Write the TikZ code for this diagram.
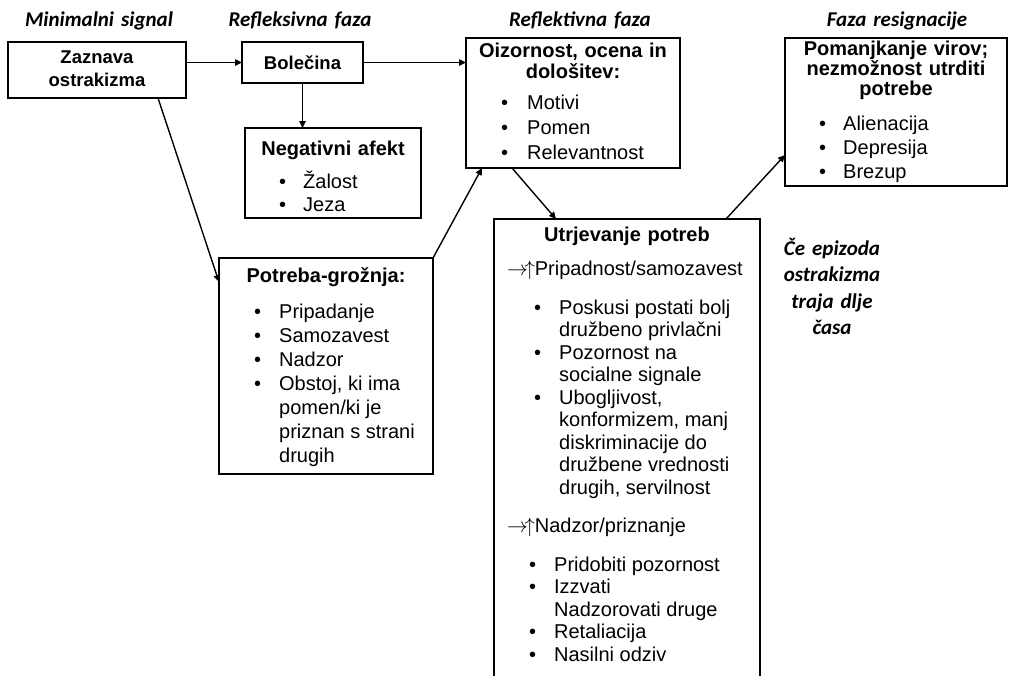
\documentclass[tikz,border=0pt]{standalone}
\usepackage{fontspec}
\setmainfont{Liberation Sans}
\newfontfamily\hdrfont{Carlito}
\usetikzlibrary{arrows.meta}
\newcommand\bl{\textbullet}
\begin{document}
\begin{tikzpicture}[x=1pt,y=-1pt,
  box/.style={draw, line width=1.8pt, anchor=north west, inner sep=0pt, outer sep=0pt},
  ttl/.style={font=\fontsize{20}{21}\selectfont\bfseries, align=center, text width=#1, inner sep=0pt, anchor=base},
  ttl/.default=210pt,
  lst/.style={inner sep=0pt, anchor=base west, font=\fontsize{20}{#1}\selectfont},
  lst/.default=24pt,
  hdr/.style={font=\hdrfont\fontsize{21}{26.5}\selectfont\bfseries\itshape, inner sep=0pt, anchor=base, align=center, text width=170pt},
  arr/.style={line width=1.4pt, -{Triangle[length=7pt,width=6.5pt]}},
]
\useasboundingbox (0,0) rectangle (1014,675);
\clip (0,0) rectangle (1014,675);

% headers
\node[hdr] (h1) at (99,26) {Minimalni signal};
\node[hdr] (h2) at (300,26) {Refleksivna faza};
\node[hdr] (h3) at (580,26) {Reflektivna faza};
\node[hdr] (h4) at (897,26) {Faza resignacije};
\node[hdr] (side) at (832,255) {Če epizoda\\ostrakizma\\traja dlje\\časa};

% boxes
\node[box, minimum width=178pt, minimum height=56pt] (zaz) at (8,42) {};
\node[box, minimum width=121pt, minimum height=41pt] (bol) at (242,42) {};
\node[box, minimum width=176pt, minimum height=90pt] (neg) at (245,128) {};
\node[box, minimum width=214pt, minimum height=130pt] (oiz) at (466,38) {};
\node[box, minimum width=222pt, minimum height=148pt] (pom) at (785,38) {};
\node[box, minimum width=214pt, minimum height=216pt] (pot) at (219,258) {};
\node[box, minimum width=266pt, minimum height=480pt] (utr) at (494,219) {};

% box texts
\node[ttl=170pt, font=\fontsize{18.5}{23}\selectfont\bfseries] (zazt) at (97,63) {Zaznava\\ostrakizma};
\node[ttl=115pt, font=\fontsize{18.5}{23}\selectfont\bfseries] (bolt) at (302.5,69) {Bolečina};

\node[ttl] (negt) at (333,155) {Negativni afekt};
\node[lst=23pt] (negl) at (279,188) {\begin{tabular}[t]{@{}p{24pt}@{}l@{}}\bl & Žalost\\ \bl & Jeza\end{tabular}};

\node[ttl] (oizt) at (573,57) {Oizornost, ocena in\\dološitev:};
\node[lst=25pt] (oizl) at (501,109) {\begin{tabular}[t]{@{}p{26pt}@{}l@{}}\bl & Motivi\\ \bl & Pomen\\ \bl & Relevantnost\end{tabular}};

\node[ttl, font=\fontsize{20}{20}\selectfont\bfseries] (pomt) at (896,55) {Pomanjkanje virov;\\nezmožnost utrditi\\potrebe};
\node[lst=24pt] (poml) at (819,130) {\begin{tabular}[t]{@{}p{24pt}@{}l@{}}\bl & Alienacija\\ \bl & Depresija\\ \bl & Brezup\end{tabular}};

\node[ttl] (pott) at (326,282) {Potreba-grožnja:};
\node[lst=24pt] (potl) at (254,318) {\begin{tabular}[t]{@{}p{25pt}@{}l@{}}\bl & Pripadanje\\ \bl & Samozavest\\ \bl & Nadzor\\ \bl & Obstoj, ki ima\\ & pomen/ki je\\ & priznan s strani\\ & drugih\end{tabular}};

\node[ttl] (utrt) at (627,241) {Utrjevanje potreb};
\node[lst] (utra) at (507,275) {$\rightarrow\!\uparrow$Pripadnost/samozavest};
\node[lst=22.5pt] (utrl) at (534,314) {\begin{tabular}[t]{@{}p{25pt}@{}l@{}}\bl & Poskusi postati bolj\\ & družbeno privlačni\\ \bl & Pozornost na\\ & socialne signale\\ \bl & Ubogljivost,\\ & konformizem, manj\\ & diskriminacije do\\ & družbene vrednosti\\ & drugih, servilnost\end{tabular}};
\node[lst] (utrb) at (507,532) {$\rightarrow\!\uparrow$Nadzor/priznanje};
\node[lst=22.5pt] (utrm) at (529,571) {\begin{tabular}[t]{@{}p{25pt}@{}l@{}}\bl & Pridobiti pozornost\\ \bl & Izzvati\\ & Nadzorovati druge\\ \bl & Retaliacija\\ \bl & Nasilni odziv\end{tabular}};

% arrows
\draw[arr] (zaz.east |- bol.west) -- (bol.west);
\draw[arr] (bol.east) -- (bol.east -| oiz.west);
\draw[arr] (bol.south) -- (bol.south |- neg.north);
\draw[arr] ([xshift=61pt]zaz.south) -- ([yshift=-24pt]pot.north west);
\draw[arr] (pot.north east) -- ([xshift=16pt]oiz.south west);
\draw[arr] ([xshift=46pt]oiz.south west) -- ([xshift=62pt]utr.north west);
\draw[arr] ([xshift=232pt]utr.north west) -- ([yshift=-117pt]pom.north west);
\end{tikzpicture}
\end{document}
